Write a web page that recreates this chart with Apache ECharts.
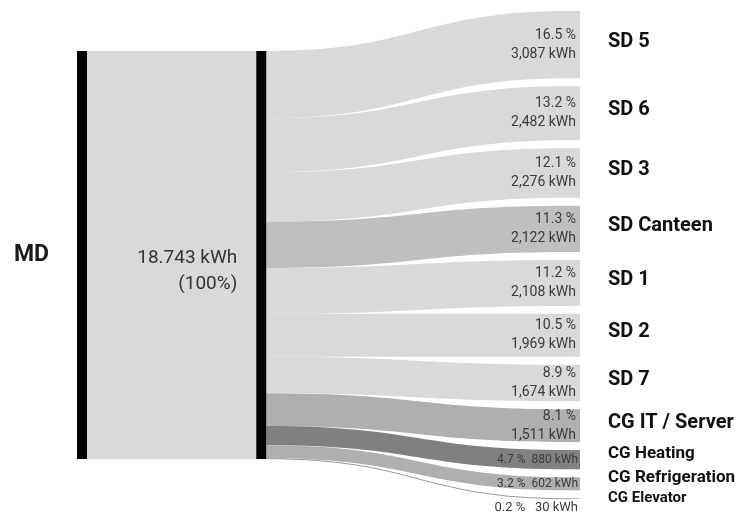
<!DOCTYPE html>
<html>
<head>
<meta charset="utf-8">
<script src="https://cdn.jsdelivr.net/npm/echarts@6/dist/echarts.min.js"></script>
<style>
html,body{margin:0;padding:0;background:#fff;}
#chart{width:743px;height:512px;}
</style>
</head>
<body>
<div id="chart"></div>
<script>
// ---- data ----
const sourceName = 'MD';
const hubName = 'Summe';
const hubLabel = ['18.743 kWh', '(100%)'];
const total = 18743;
const targets = ['SD 5', 'SD 6', 'SD 3', 'SD Canteen', 'SD 1', 'SD 2', 'SD 7',
  'CG IT / Server', 'CG Heating', 'CG Refrigeration', 'CG Elevator'];
const values = [3087, 2482, 2276, 2122, 2108, 1969, 1674, 1511, 880, 602, 30];
const percents = ['16.5 %', '13.2 %', '12.1 %', '11.3 %', '11.2 %', '10.5 %', '8.9 %',
  '8.1 %', '4.7 %', '3.2 %', '0.2 %'];
const valueTexts = ['3,087 kWh', '2,482 kWh', '2,276 kWh', '2,122 kWh', '2,108 kWh', '1,969 kWh',
  '1,674 kWh', '1,511 kWh', '880 kWh', '602 kWh', '30 kWh'];

// ---- styles ----
const linkColors = ['#d9d9d9', '#d9d9d9', '#d9d9d9', '#bfbfbf', '#d9d9d9', '#d9d9d9', '#d9d9d9',
  '#b1aeae', '#808080', '#b1aeae', '#9a9a9a'];
const nameSizes = [20, 20, 20, 20, 20, 20, 20, 20, 17, 17, 15];
const nameOffsets = [-3, -3, -3, -3, -3, -3, -3, -3, -6, -6, 0];
const FONT = 'Roboto, "Noto Sans", sans-serif';

// ---- layout settings ----
const box = {left: 77, top: 11, width: 503, height: 488};
const nodeGap = 8;
const ky = (box.height - (targets.length - 1) * nodeGap) / values.reduce((a, b) => a + b, 0);
const leftLocalY = (box.height - total * ky) / 2 / box.height;

function buildNodes(withValueLabels) {
  const hidden = 'rgba(0,0,0,0)';
  const nodes = [
    {
      name: sourceName, depth: 0, localY: leftLocalY,
      itemStyle: {color: withValueLabels ? hidden : '#000'},
      label: withValueLabels ? {show: false} : {
        show: true, position: 'left', distance: 28, formatter: sourceName,
        fontFamily: FONT, fontSize: 23, fontWeight: 'bold', color: '#1a1a1a'
      }
    },
    {
      name: hubName, depth: 4, localY: leftLocalY,
      itemStyle: {color: withValueLabels ? hidden : '#000'},
      label: withValueLabels ? {show: false} : {
        show: true, position: 'left', distance: 19, formatter: hubLabel.join('\n'),
        align: 'right', fontFamily: FONT, fontSize: 19, lineHeight: 26, color: '#333',
        offset: [0, 16]
      }
    }
  ];
  targets.forEach((t, i) => {
    const last = i === targets.length - 1;
    let label;
    if (withValueLabels) {
      const big = i < 8;
      label = {
        show: true, position: 'insideRight', distance: big ? 4 : 2, align: 'right',
        formatter: big ? percents[i] + '\n' + valueTexts[i] : percents[i] + (last ? '   ' : '  ') + valueTexts[i],
        fontFamily: FONT, fontSize: big ? 14 : (last ? 13 : 12), lineHeight: big ? 19 : 14, color: '#3a3a3a',
        offset: last ? [0, 9] : [0, 0]
      };
    } else {
      label = {
        show: true, position: 'right', distance: 28, formatter: t,
        fontFamily: FONT, fontSize: nameSizes[i], fontWeight: 'bold', color: '#111',
        offset: [0, nameOffsets[i]]
      };
    }
    nodes.push({
      name: t, depth: 11,
      itemStyle: {color: withValueLabels ? hidden : linkColors[i]},
      label: label
    });
  });
  return nodes;
}

function buildLinks(hidden) {
  const links = [{source: sourceName, target: hubName, value: total,
    lineStyle: {color: hidden ? 'rgba(0,0,0,0)' : '#d9d9d9'}}];
  targets.forEach((t, i) => {
    links.push({source: hubName, target: t, value: values[i],
      lineStyle: {color: hidden ? 'rgba(0,0,0,0)' : linkColors[i]}});
  });
  return links;
}

function buildSeries(withValueLabels) {
  return {
    type: 'sankey',
    left: box.left, top: box.top, width: box.width, height: box.height,
    nodeWidth: 10, nodeGap: nodeGap,
    nodeAlign: 'justify',
    layoutIterations: 32,
    draggable: false,
    silent: withValueLabels,
    emphasis: {disabled: true},
    animation: false,
    lineStyle: {opacity: 1, curveness: 0.5},
    itemStyle: {borderWidth: 0},
    data: buildNodes(withValueLabels),
    links: buildLinks(withValueLabels)
  };
}

const chart = echarts.init(document.getElementById('chart'), null, {renderer: 'canvas'});
chart.setOption({
  animation: false,
  tooltip: {show: false},
  series: [buildSeries(false), buildSeries(true)]
});
</script>
</body>
</html>
